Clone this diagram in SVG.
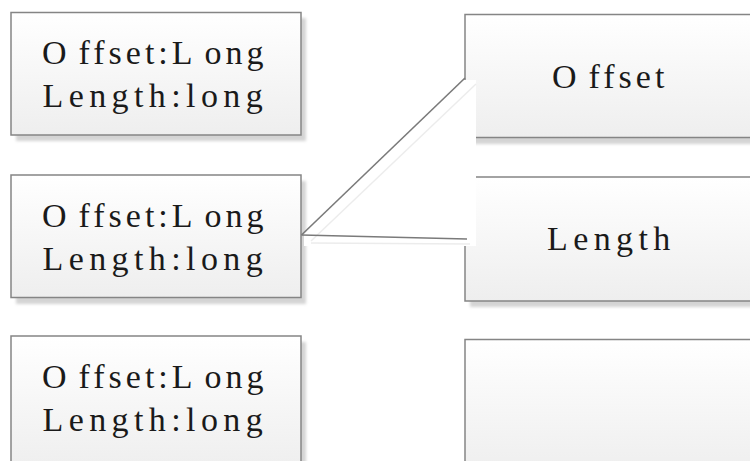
<svg xmlns="http://www.w3.org/2000/svg" width="750" height="461" viewBox="0 0 750 461">
  <style>
    .box { fill: url(#boxFill); stroke: #858585; stroke-width: 1.5; }
    .shadow { fill: #d4d4d4; filter: url(#soft); }
    .label { font-family: "Liberation Serif", "Times New Roman", serif; font-size: 34px; fill: #1a1a1a; }
    .l1 { letter-spacing: 4px; }
    .l2 { letter-spacing: 5.4px; }
    .wire { fill: none; stroke: #7a7a7a; stroke-width: 1.6; }
    .wire-shade { fill: none; stroke: #ececec; stroke-width: 1.4; }
  </style>
  <defs>
    <linearGradient id="boxFill" x1="0" y1="0" x2="0" y2="1">
      <stop offset="0" stop-color="#ffffff"/>
      <stop offset="1" stop-color="#eeeeee"/>
    </linearGradient>
    <filter id="soft" x="-5%" y="-10%" width="110%" height="120%">
      <feGaussianBlur stdDeviation="1.5"/>
    </filter>
  </defs>

  <rect width="750" height="461" fill="#ffffff"/>

  <!-- left column: record entries -->
  <g id="entry-1">
    <rect class="shadow" x="16" y="18" width="290" height="123"/>
    <rect class="box" x="11" y="12.5" width="290" height="122.5"/>
    <text class="label">
      <tspan class="l1" x="42" y="64">O<tspan dx="8">ffset:L</tspan><tspan dx="8">ong</tspan></tspan>
      <tspan class="l2" x="42.5" y="107">Length:long</tspan>
    </text>
  </g>

  <g id="entry-2">
    <rect class="shadow" x="16" y="181" width="290" height="123"/>
    <rect class="box" x="11" y="175" width="290" height="122.5"/>
    <text class="label">
      <tspan class="l1" x="42" y="226.5">O<tspan dx="8">ffset:L</tspan><tspan dx="8">ong</tspan></tspan>
      <tspan class="l2" x="42.5" y="269.5">Length:long</tspan>
    </text>
  </g>

  <g id="entry-3">
    <rect class="shadow" x="16" y="342" width="290" height="130"/>
    <rect class="box" x="11" y="336" width="290" height="135"/>
    <text class="label">
      <tspan class="l1" x="42" y="387.5">O<tspan dx="8">ffset:L</tspan><tspan dx="8">ong</tspan></tspan>
      <tspan class="l2" x="42.5" y="430.5">Length:long</tspan>
    </text>
  </g>

  <!-- right column: field cells -->
  <g id="field-offset">
    <rect class="shadow" x="470" y="20" width="300" height="124"/>
    <rect class="box" x="465" y="14.5" width="300" height="123"/>
    <text class="label l1" x="552" y="88">O<tspan dx="8">ffset</tspan></text>
  </g>

  <g id="field-length">
    <rect class="shadow" x="470" y="183" width="300" height="124"/>
    <rect class="box" x="465" y="177" width="300" height="124"/>
    <text class="label l2" x="547" y="250">Length</text>
  </g>

  <g id="field-empty">
    <rect class="shadow" x="470" y="345" width="300" height="130"/>
    <rect class="box" x="465" y="339.5" width="300" height="135"/>
  </g>

  <!-- connectors from the middle entry to the two fields -->
  <g id="connectors">
    <polygon points="304,234 464,80 476,80 476,246 304,246" fill="#ffffff"/>
    <line class="wire-shade" x1="311" y1="241" x2="476" y2="84"/>
    <line class="wire-shade" x1="311" y1="243" x2="470" y2="244"/>
    <line class="wire" x1="301.5" y1="235" x2="465" y2="78"/>
    <line class="wire" x1="301.5" y1="235" x2="467" y2="239"/>
  </g>
</svg>
